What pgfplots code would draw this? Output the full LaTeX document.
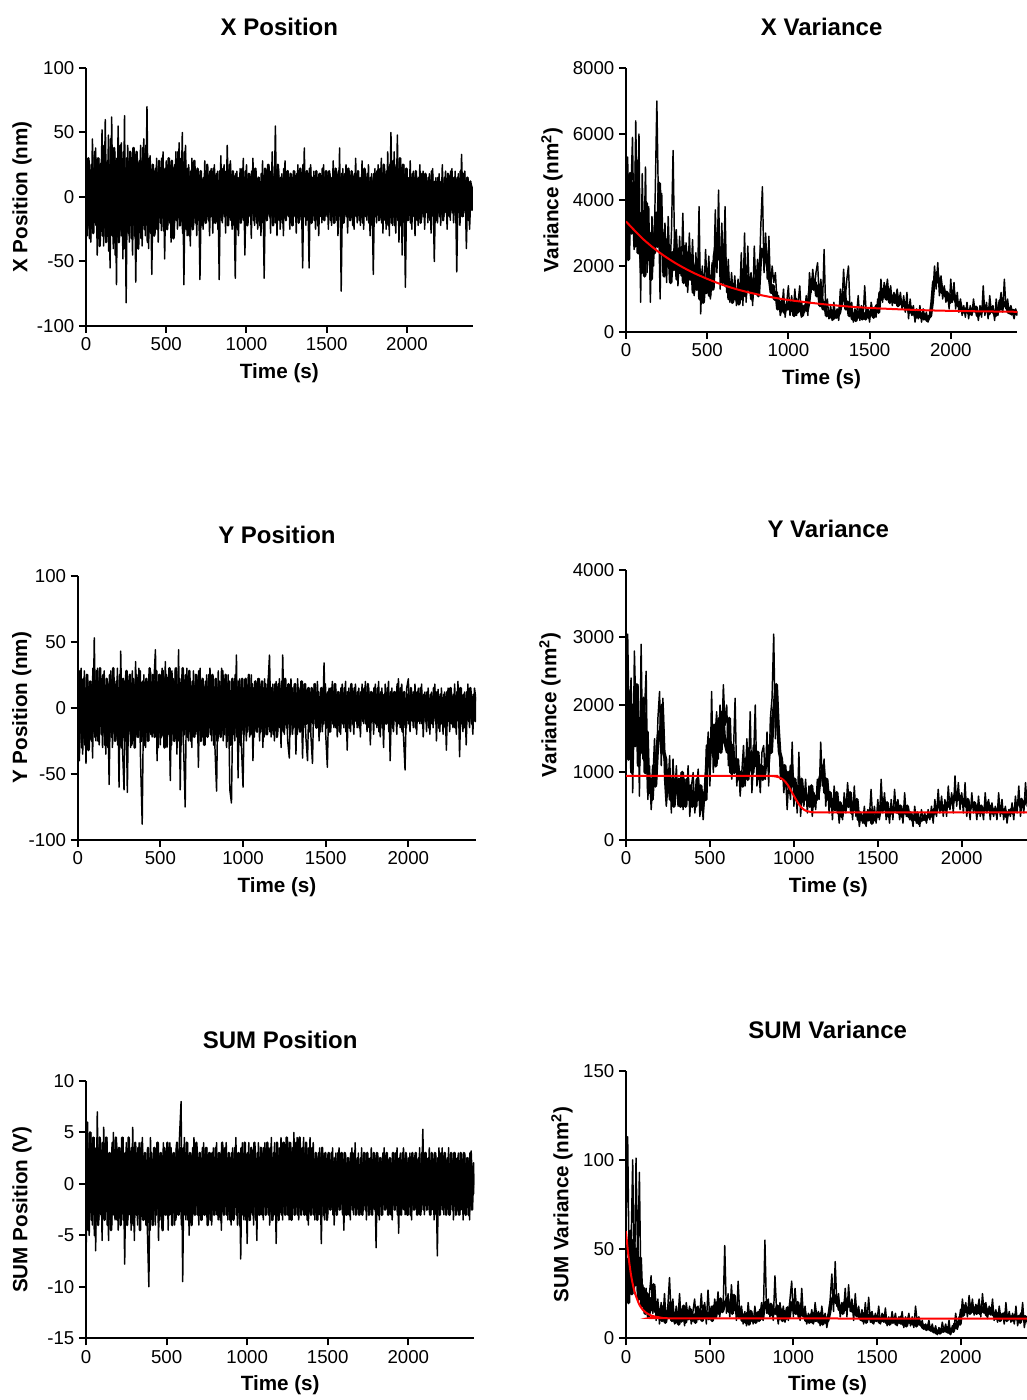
\documentclass[border=0pt]{standalone}
\usepackage{fontspec}
\setmainfont{Liberation Sans}
\usepackage{pgfplots}
\usepackage{pgfplotstable}
\pgfplotsset{compat=1.18}

% one value every 10 s (0..2410 s); the "b" tables hold the samples at 5, 15, 25 ... s
\pgfplotstableread[row sep=\\, header=false]{
5\\-30\\28\\-35\\45\\-20\\38\\-45\\30\\-12\\
52\\-38\\60\\-25\\48\\-55\\62\\-40\\35\\-68\\
55\\-30\\42\\-48\\63\\-82\\40\\-35\\28\\-45\\
38\\-66\\30\\-25\\40\\-38\\45\\-30\\70\\-40\\
32\\-60\\25\\-28\\30\\-35\\20\\-26\\35\\-48\\
28\\-22\\30\\-35\\22\\-30\\35\\-25\\42\\-20\\
50\\-68\\40\\-30\\25\\-38\\30\\-22\\18\\-30\\
20\\-64\\15\\-25\\28\\-20\\18\\-30\\22\\-28\\
25\\-18\\20\\-64\\32\\-20\\25\\-28\\40\\-15\\
28\\-25\\15\\-63\\20\\-30\\22\\-18\\30\\-45\\
25\\-20\\18\\-32\\30\\-22\\20\\-25\\15\\-30\\
28\\-63\\22\\-18\\25\\-28\\35\\-20\\55\\-30\\
22\\-25\\18\\-30\\28\\-15\\20\\-25\\15\\-22\\
20\\-28\\25\\-18\\15\\-55\\38\\-22\\20\\-55\\
25\\-18\\20\\-25\\15\\-30\\18\\-20\\25\\-15\\
20\\-25\\18\\-22\\28\\-20\\15\\-30\\38\\-73\\
22\\-18\\25\\-28\\20\\-15\\18\\-25\\30\\-20\\
15\\-22\\28\\-25\\20\\-18\\25\\-30\\18\\-60\\
22\\-20\\25\\-18\\30\\-28\\22\\-25\\35\\-30\\
50\\-22\\35\\-28\\48\\-35\\30\\-45\\25\\-70\\
22\\-18\\28\\-25\\20\\-30\\15\\-22\\25\\-18\\
20\\-25\\15\\-20\\18\\-28\\22\\-50\\15\\-20\\
18\\-22\\25\\-15\\20\\-25\\15\\-18\\22\\-20\\
20\\-58\\18\\-22\\33\\-15\\20\\-40\\15\\-25\\
10\\5\\
}\xpos
\pgfplotstableread[row sep=\\, header=false]{
-25\\30\\-32\\25\\-28\\35\\-22\\30\\-38\\26\\
-30\\40\\-35\\28\\-42\\45\\-30\\38\\-45\\30\\
-35\\40\\-30\\35\\-40\\30\\-28\\35\\-32\\38\\
-30\\35\\-40\\28\\-32\\38\\-25\\40\\-35\\30\\
-28\\25\\-30\\22\\-25\\28\\-20\\30\\-26\\22\\
-25\\30\\-20\\28\\-32\\25\\-18\\35\\-22\\30\\
-28\\35\\-25\\22\\-30\\20\\-25\\28\\-20\\22\\
-18\\20\\-22\\15\\-20\\25\\-18\\20\\-15\\22\\
-20\\18\\-25\\20\\-18\\22\\-15\\20\\-22\\25\\
-18\\20\\-22\\18\\-25\\15\\-20\\22\\-18\\20\\
-22\\18\\-15\\20\\-18\\22\\-20\\15\\-22\\18\\
-20\\22\\-18\\25\\-15\\20\\-22\\18\\-20\\25\\
-18\\15\\-20\\22\\-18\\20\\-15\\18\\-22\\20\\
-15\\18\\-20\\22\\-18\\25\\-15\\20\\-18\\22\\
-20\\15\\-18\\20\\-22\\18\\-15\\22\\-18\\20\\
-15\\20\\-18\\15\\-20\\22\\-18\\20\\-15\\18\\
-20\\18\\-15\\22\\-18\\20\\-22\\18\\-15\\20\\
-18\\15\\-20\\22\\-15\\18\\-20\\15\\-22\\18\\
-15\\20\\-18\\22\\-20\\25\\-18\\20\\-22\\25\\
-20\\28\\-22\\25\\-18\\30\\-22\\25\\-20\\22\\
-18\\15\\-20\\18\\-15\\20\\-18\\15\\-20\\18\\
-15\\18\\-12\\15\\-18\\20\\-15\\12\\-18\\15\\
-15\\12\\-18\\15\\-12\\18\\-15\\20\\-12\\15\\
-18\\15\\-12\\20\\-15\\18\\-12\\15\\-18\\12\\
-10\\8\\
}\xposb

\pgfplotstableread[row sep=\\, header=false]{
1500\\5300\\2800\\4200\\5900\\2500\\6400\\3000\\6000\\900\\
4800\\2200\\5000\\1800\\3800\\900\\3500\\2000\\4200\\7000\\
3800\\1000\\4200\\2000\\3300\\1500\\3500\\1800\\3000\\5500\\
2200\\3100\\1400\\2900\\1700\\3600\\1500\\2700\\1200\\3000\\
1600\\2800\\1100\\2400\\1400\\3800\\550\\2000\\1100\\2500\\
1300\\2300\\1000\\2100\\1500\\3700\\1800\\4300\\1300\\3300\\
1600\\3800\\1200\\2200\\900\\1800\\1100\\1700\\800\\1600\\
1000\\2400\\800\\3000\\900\\2600\\1200\\1800\\800\\2600\\
1300\\2200\\1500\\3200\\4400\\1800\\3000\\1600\\2900\\1300\\
2000\\1500\\1800\\900\\1100\\500\\700\\1300\\450\\900\\
1400\\500\\1100\\600\\1300\\500\\900\\1400\\450\\800\\
600\\1100\\500\\1800\\1200\\1900\\1300\\1800\\2100\\1000\\
1600\\800\\2500\\600\\1000\\400\\800\\350\\900\\500\\
700\\350\\1300\\800\\1900\\1000\\1600\\2000\\600\\900\\
300\\700\\500\\1100\\350\\800\\400\\1400\\500\\700\\
300\\900\\600\\750\\450\\1000\\700\\1600\\900\\1500\\
1200\\1600\\1000\\1400\\800\\1200\\1000\\1300\\900\\1200\\
700\\1100\\600\\1200\\400\\1000\\500\\800\\300\\700\\
400\\800\\300\\700\\450\\600\\300\\500\\750\\1100\\
2000\\1300\\2100\\1100\\1700\\1000\\1400\\900\\1200\\700\\
1600\\900\\1500\\700\\1200\\600\\1000\\500\\800\\450\\
900\\400\\800\\500\\1000\\600\\700\\350\\800\\450\\
1400\\500\\900\\400\\1100\\600\\800\\350\\1000\\500\\
800\\1200\\600\\1600\\700\\1000\\550\\800\\600\\400\\
700\\500\\
}\xvar
\pgfplotstableread[row sep=\\, header=false]{
4000\\2200\\4800\\3000\\4500\\2600\\5200\\2400\\3600\\1800\\
3500\\1700\\3900\\2200\\3000\\1600\\2800\\2400\\3600\\2600\\
4500\\2400\\3000\\1700\\2800\\2000\\2600\\1500\\2400\\1900\\
2800\\1600\\2500\\1800\\2300\\1500\\2600\\1400\\2400\\1600\\
2300\\1200\\2000\\1300\\2200\\1000\\1800\\900\\1600\\1200\\
1900\\1100\\1700\\1300\\2300\\2600\\2900\\2200\\2500\\1500\\
2400\\1400\\1800\\1000\\1500\\900\\1400\\1000\\1300\\850\\
1400\\1000\\1900\\1100\\1700\\1300\\1500\\1000\\1600\\1200\\
1800\\1100\\2000\\2500\\2300\\2600\\2200\\1900\\1600\\1200\\
1400\\1000\\1200\\700\\900\\650\\1000\\600\\800\\700\\
900\\650\\800\\500\\1000\\600\\700\\900\\500\\700\\
800\\650\\900\\1400\\1600\\1300\\1500\\1100\\1400\\800\\
1000\\700\\900\\500\\600\\450\\650\\400\\600\\450\\
500\\600\\900\\1100\\1200\\700\\900\\500\\700\\400\\
500\\350\\600\\450\\700\\400\\550\\400\\650\\450\\
550\\700\\450\\650\\800\\600\\1200\\1000\\1300\\1100\\
1000\\1300\\900\\1100\\1000\\900\\1100\\800\\1000\\900\\
800\\900\\700\\800\\600\\750\\550\\600\\450\\500\\
600\\450\\550\\400\\500\\350\\450\\500\\900\\1500\\
1600\\1800\\1500\\1600\\1200\\1300\\1100\\1200\\1000\\900\\
1100\\1200\\1000\\900\\800\\900\\700\\650\\600\\700\\
600\\650\\550\\700\\650\\750\\500\\550\\600\\700\\
800\\650\\700\\550\\750\\650\\600\\500\\700\\650\\
950\\700\\900\\800\\850\\600\\700\\550\\650\\600\\
550\\600\\
}\xvarb

\pgfplotstableread[row sep=\\, header=false]{
10\\-40\\30\\-35\\28\\-42\\25\\-30\\20\\-38\\
53\\-25\\30\\-28\\22\\-30\\28\\-35\\20\\-58\\
28\\-30\\22\\-25\\30\\-60\\43\\-28\\-62\\25\\
-64\\20\\-30\\28\\-25\\35\\-22\\30\\-40\\-88\\
25\\-30\\20\\-25\\28\\-22\\18\\44\\-40\\25\\
-28\\30\\-20\\35\\-30\\22\\-55\\28\\-25\\30\\
-35\\44\\-62\\25\\-28\\-75\\30\\-25\\22\\-30\\
28\\-20\\25\\-45\\30\\-22\\18\\-28\\25\\-20\\
30\\-25\\22\\-30\\-63\\28\\-20\\30\\-25\\22\\
-30\\25\\-62\\-72\\20\\-25\\40\\-53\\22\\-28\\
-60\\20\\-25\\18\\-22\\25\\-40\\20\\-18\\22\\
-25\\18\\-30\\22\\-20\\15\\40\\-22\\18\\-25\\
20\\-18\\22\\-30\\40\\-20\\15\\-25\\-38\\22\\
-20\\18\\-35\\22\\-15\\20\\-38\\18\\-22\\-40\\
15\\-20\\-42\\18\\-15\\20\\-25\\15\\-18\\34\\
-20\\-45\\15\\-18\\20\\-15\\18\\-22\\12\\-20\\
18\\-15\\20\\-32\\15\\-18\\12\\-20\\18\\-15\\
15\\-22\\18\\-12\\20\\-18\\15\\-28\\12\\-20\\
18\\-15\\20\\-22\\15\\-30\\18\\-12\\20\\-40\\
15\\-18\\12\\-20\\22\\-15\\18\\-20\\-47\\15\\
22\\-18\\12\\-15\\18\\-20\\15\\-12\\18\\-22\\
12\\-18\\15\\-20\\12\\-15\\18\\-25\\14\\-18\\
15\\-20\\12\\-32\\15\\-18\\12\\-15\\18\\-20\\
20\\-37\\15\\-18\\12\\-28\\18\\-15\\12\\-20\\
15\\5\\
}\ypos
\pgfplotstableread[row sep=\\, header=false]{
-25\\28\\-30\\22\\-28\\25\\-32\\20\\-25\\30\\
-22\\28\\-25\\30\\-20\\25\\-28\\22\\-30\\25\\
-22\\30\\-25\\20\\-28\\25\\-30\\22\\-25\\28\\
-20\\25\\-28\\22\\-30\\25\\-22\\28\\-25\\20\\
-28\\22\\-25\\30\\-20\\25\\-22\\28\\-30\\25\\
-22\\28\\-30\\25\\-20\\30\\-28\\22\\-25\\30\\
-25\\22\\-28\\30\\-20\\25\\-22\\28\\-25\\20\\
-22\\25\\-20\\28\\-25\\22\\-28\\20\\-22\\25\\
-20\\25\\-28\\22\\-25\\20\\-22\\28\\-20\\25\\
-25\\20\\-28\\22\\-20\\25\\-22\\20\\-28\\22\\
-20\\22\\-18\\25\\-20\\18\\-22\\20\\-18\\22\\
-18\\20\\-22\\18\\-20\\22\\-18\\15\\-20\\18\\
-22\\18\\-15\\20\\-18\\22\\-15\\18\\-20\\15\\
-15\\18\\-20\\15\\-18\\20\\-15\\18\\-12\\15\\
-18\\15\\-12\\18\\-15\\12\\-18\\15\\-12\\18\\
-15\\12\\-18\\15\\-12\\18\\-15\\12\\-18\\15\\
-12\\15\\-18\\12\\-15\\18\\-12\\15\\-10\\12\\
-15\\12\\-10\\15\\-12\\18\\-15\\12\\-10\\15\\
-12\\15\\-18\\12\\-15\\10\\-12\\15\\-18\\12\\
-15\\12\\-10\\18\\-12\\15\\-18\\12\\-15\\10\\
-12\\15\\-10\\12\\-15\\12\\-10\\15\\-12\\10\\
-10\\12\\-15\\10\\-12\\15\\-10\\12\\-15\\10\\
-12\\10\\-15\\12\\-10\\15\\-12\\10\\-15\\12\\
-10\\15\\-12\\10\\-15\\12\\-10\\15\\-12\\10\\
-10\\8\\
}\yposb

\pgfplotstableread[row sep=\\, header=false]{
800\\3050\\1500\\2400\\700\\2800\\1800\\2300\\650\\2900\\
1200\\1900\\2500\\600\\1100\\450\\900\\1500\\800\\1800\\
2200\\1100\\2100\\900\\500\\800\\1250\\400\\1200\\600\\
1100\\500\\800\\1000\\450\\900\\600\\1100\\350\\800\\
1000\\400\\750\\1050\\350\\600\\300\\900\\1200\\1600\\
800\\2200\\1000\\1500\\1900\\1200\\2000\\1400\\2300\\1700\\
2000\\1100\\1600\\900\\1300\\2100\\800\\1200\\650\\1000\\
1400\\800\\1500\\1000\\1900\\700\\1200\\2000\\800\\1100\\
700\\1300\\1400\\900\\1600\\800\\1800\\2100\\3050\\1500\\
2200\\1600\\900\\1200\\700\\1000\\450\\900\\600\\1450\\
500\\800\\400\\1300\\350\\700\\500\\900\\400\\800\\
600\\350\\700\\450\\900\\600\\1450\\800\\1200\\500\\
900\\400\\700\\300\\800\\500\\600\\250\\500\\300\\
700\\400\\850\\500\\650\\300\\800\\350\\500\\200\\
400\\250\\500\\200\\450\\350\\750\\300\\500\\250\\
600\\300\\900\\400\\700\\300\\500\\250\\600\\300\\
750\\400\\600\\300\\500\\250\\700\\350\\450\\300\\
400\\200\\500\\250\\350\\200\\450\\300\\400\\250\\
450\\300\\500\\250\\600\\350\\750\\400\\650\\350\\
600\\350\\800\\450\\700\\400\\950\\500\\850\\450\\
700\\400\\850\\350\\600\\300\\700\\400\\550\\300\\
650\\350\\500\\300\\700\\400\\600\\300\\550\\350\\
500\\300\\700\\350\\600\\300\\500\\250\\450\\350\\
550\\300\\650\\400\\800\\350\\600\\400\\850\\500\\
700\\450\\
}\yvar
\pgfplotstableread[row sep=\\, header=false]{
2400\\1200\\2200\\1000\\2000\\1400\\2300\\1100\\1800\\1300\\
2100\\1000\\1600\\700\\900\\600\\1100\\800\\1300\\1600\\
1500\\2000\\1300\\1200\\700\\1000\\600\\900\\500\\800\\
700\\900\\500\\1000\\700\\500\\900\\600\\800\\500\\
700\\500\\900\\600\\800\\450\\700\\600\\1400\\1100\\
1500\\1300\\1700\\1100\\1500\\1800\\1300\\1900\\1500\\1400\\
1300\\1800\\1000\\1400\\1000\\1200\\1100\\900\\1000\\800\\
1000\\1200\\900\\1300\\1100\\1000\\1400\\1100\\1300\\900\\
1100\\900\\1000\\1200\\1100\\1400\\1300\\1800\\2000\\2300\\
1700\\1300\\1200\\900\\1100\\800\\1000\\700\\1100\\800\\
900\\600\\800\\550\\900\\600\\750\\600\\650\\500\\
800\\500\\650\\600\\700\\900\\1000\\1100\\700\\900\\
600\\700\\500\\600\\450\\700\\400\\550\\350\\500\\
450\\600\\500\\700\\400\\550\\450\\600\\300\\400\\
300\\350\\250\\400\\300\\450\\250\\350\\300\\400\\
350\\450\\500\\600\\450\\550\\350\\450\\400\\450\\
450\\550\\400\\500\\350\\450\\400\\500\\350\\400\\
300\\350\\300\\400\\250\\300\\300\\350\\300\\350\\
350\\400\\350\\450\\400\\500\\500\\550\\450\\500\\
450\\550\\500\\600\\550\\650\\600\\700\\600\\650\\
550\\600\\500\\600\\450\\500\\500\\550\\450\\400\\
450\\500\\400\\450\\500\\550\\450\\500\\400\\450\\
400\\450\\500\\450\\400\\450\\350\\400\\400\\450\\
400\\450\\500\\550\\550\\600\\500\\550\\600\\650\\
600\\650\\
}\yvarb

\pgfplotstableread[row sep=\\, header=false]{
-8\\6\\-5\\5\\-4\\4.5\\-6.5\\7\\-3.5\\4\\
-5.5\\5.5\\-3\\4.5\\-5.5\\3\\-4\\5\\-3.5\\4\\
-4.5\\3.5\\-3\\4.5\\-7.8\\4\\-3.5\\3\\-4.5\\5.5\\
-5.5\\3\\-4\\4\\-3\\4.5\\-3.5\\3\\-4\\-10\\
4.5\\-3\\3.5\\-4\\4\\-5.5\\3\\-3.5\\4\\-3\\
3.5\\-4.5\\4\\-3\\3\\-4\\3.5\\-3\\4.5\\8\\
-9.5\\4.5\\-3.5\\4\\-5\\3\\-3.5\\4.5\\-3\\3.5\\
-4\\3\\-3.5\\4\\-3\\3.5\\-3.5\\3\\-4\\3.5\\
-3\\4\\-3.5\\3\\-4.5\\3.5\\-3\\4\\-3.5\\3\\
-4\\3.5\\-3\\4.5\\-4\\3\\-7.3\\4\\-3.5\\3\\
-5.8\\4\\-3.5\\3\\-4\\3.5\\-5.5\\4\\-3\\3.5\\
-3.5\\4\\-3\\3.5\\-4\\4.5\\-3.5\\4\\-5.8\\3.5\\
-3\\4.5\\-3.5\\4\\-3\\4.5\\-3.5\\4\\-3\\5\\
-3\\4.5\\-3.5\\4\\-2.5\\4.5\\-3\\3.5\\-4\\4.5\\
-3\\4\\-3.5\\3\\-3\\3.5\\-5.8\\3\\-3.5\\2.5\\
-3\\3\\-2.5\\3.5\\-4\\3\\-3\\3.5\\-2.5\\3\\
-4.5\\3\\-3\\2.5\\-3.5\\3.5\\-3\\4\\-2.5\\3\\
-3\\3.5\\-2.5\\3\\-3.5\\2.5\\-3\\3.5\\-2.5\\3\\
-6.2\\3\\-3.5\\2.5\\-3\\3.5\\-2.5\\3\\-3\\2.5\\
-3.5\\3\\-2.5\\3.5\\-4.8\\3\\-2.5\\3.5\\-3\\2.5\\
-3\\3\\-3.5\\2.5\\-2.5\\3\\-3\\3.5\\-2.5\\5.3\\
-3\\3\\-2.5\\3.5\\-3\\2.5\\-3.5\\3\\-7\\3.5\\
-2.5\\3.5\\-3\\3\\-2.5\\3.5\\-3\\2.5\\-3.5\\3\\
-2.5\\3\\-3\\2.5\\-3.5\\3\\-3\\2.5\\-3.5\\3.2\\
-1\\1\\
}\spos
\pgfplotstableread[row sep=\\, header=false]{
4\\-4.5\\5\\-3.5\\4.5\\-5\\3.5\\-4\\4.5\\-3\\
4\\-3.5\\4.5\\-4\\3\\-4.5\\4\\-3\\4.5\\-3.5\\
3.5\\-4\\4.5\\-3.5\\3\\-4\\4.5\\-3\\3.5\\-4\\
4\\-3\\3.5\\-4.5\\4\\-3.5\\3\\-4\\3.5\\-4.5\\
3\\-4\\3.5\\-3\\4\\-3.5\\3\\-4.5\\3.5\\-3\\
4\\-3\\3.5\\-4\\3\\-3.5\\4\\-3\\3.5\\-4\\
3.5\\-3\\4\\-3.5\\3\\-4\\3.5\\-3\\4\\-3\\
3\\-3.5\\3.5\\-3\\3.5\\-4\\3\\-3.5\\3\\-3\\
3.5\\-3\\3\\-3.5\\4\\-3\\3.5\\-3\\3\\-3.5\\
3\\-3.5\\3.5\\-3\\3\\-4\\3.5\\-3\\4\\-3.5\\
3\\-3.5\\3.5\\-3\\4\\-3.5\\3\\-3\\3.5\\-3\\
3.5\\-3\\4\\-3\\3.5\\-3.5\\3\\-3\\4\\-3.5\\
3.5\\-3\\4\\-3\\4.5\\-3\\4\\-3.5\\3.5\\-3\\
4\\-3\\4.5\\-3\\3.5\\-3\\4\\-3.5\\3.5\\-3\\
3.5\\-3\\3\\-3.5\\3\\-3\\3.5\\-3\\3\\-3.5\\
3\\-2.5\\3\\-3\\2.5\\-3\\3\\-2.5\\3\\-3\\
3\\-3\\2.5\\-3\\3\\-2.5\\3\\-3\\2.5\\-3\\
2.5\\-3\\3\\-2.5\\3\\-3\\2.5\\-3\\3\\-2.5\\
3\\-3\\2.5\\-3\\3\\-2.5\\3\\-3\\2.5\\-3\\
3\\-2.5\\3\\-3\\2.5\\-3\\3\\-2.5\\3\\-3\\
2.5\\-3\\3\\-2.5\\3\\-3\\2.5\\-3\\3\\-2.5\\
3\\-2.5\\2.5\\-3\\3\\-2.5\\3\\-3\\2.5\\-3\\
3\\-2.5\\3\\-3\\2.5\\-3\\3\\-2.5\\3\\-3\\
2.5\\-3\\3\\-2.5\\3\\-3\\2.5\\-3\\3\\-2.5\\
2\\-1\\
}\sposb

\pgfplotstableread[row sep=\\, header=false]{
60\\113\\30\\50\\100\\25\\101\\40\\93\\20\\
30\\15\\28\\12\\25\\35\\14\\30\\10\\22\\
8\\20\\10\\25\\9\\18\\34\\12\\22\\8\\
18\\10\\25\\9\\16\\7\\20\\12\\18\\8\\
15\\22\\9\\18\\12\\25\\10\\20\\8\\27\\
12\\18\\10\\22\\14\\26\\12\\20\\15\\52\\
14\\25\\12\\30\\15\\22\\10\\32\\12\\18\\
8\\15\\7\\20\\10\\14\\8\\18\\10\\15\\
12\\20\\10\\55\\14\\22\\12\\18\\10\\35\\
15\\8\\20\\12\\18\\9\\15\\10\\22\\32\\
12\\28\\15\\20\\10\\28\\12\\18\\8\\14\\
10\\16\\8\\20\\12\\15\\7\\18\\10\\14\\
6\\12\\22\\36\\15\\43\\18\\25\\12\\20\\
15\\28\\12\\30\\15\\22\\10\\25\\12\\18\\
10\\16\\8\\20\\10\\23\\9\\15\\8\\14\\
10\\18\\8\\14\\9\\17\\7\\12\\8\\15\\
9\\14\\7\\12\\8\\15\\6\\12\\9\\14\\
7\\12\\6\\18\\9\\12\\7\\10\\5\\8\\
6\\10\\4\\8\\3\\7\\2\\6\\3\\9\\
4\\8\\3\\10\\2\\7\\6\\14\\5\\12\\
10\\22\\14\\20\\12\\24\\15\\22\\13\\19\\
16\\22\\12\\25\\14\\20\\11\\18\\13\\22\\
10\\16\\9\\18\\11\\14\\8\\20\\10\\15\\
9\\14\\8\\18\\7\\13\\10\\20\\6\\12\\
8\\10\\
}\svar
\pgfplotstableread[row sep=\\, header=false]{
45\\20\\60\\25\\55\\30\\50\\22\\45\\18\\
28\\14\\25\\12\\22\\16\\30\\15\\20\\12\\
16\\10\\18\\9\\15\\12\\20\\10\\14\\9\\
14\\8\\16\\10\\18\\9\\14\\11\\16\\10\\
13\\9\\17\\11\\15\\10\\18\\12\\14\\11\\
16\\10\\18\\12\\20\\14\\22\\15\\18\\20\\
22\\15\\20\\14\\24\\16\\18\\12\\16\\10\\
13\\9\\14\\8\\15\\10\\12\\9\\14\\10\\
16\\11\\18\\20\\17\\14\\19\\13\\16\\14\\
18\\11\\16\\10\\15\\11\\17\\12\\20\\16\\
18\\14\\20\\12\\18\\13\\15\\10\\12\\9\\
13\\9\\14\\10\\12\\9\\14\\8\\12\\9\\
10\\14\\20\\22\\24\\20\\22\\16\\18\\14\\
20\\16\\22\\18\\19\\15\\18\\13\\15\\12\\
12\\10\\14\\9\\13\\11\\14\\9\\12\\10\\
12\\9\\11\\10\\13\\9\\10\\8\\11\\9\\
11\\8\\10\\9\\12\\8\\10\\7\\11\\9\\
9\\8\\10\\7\\11\\8\\8\\6\\7\\5\\
7\\5\\6\\4\\5\\3\\4\\3\\5\\4\\
5\\4\\6\\3\\5\\4\\8\\6\\9\\8\\
16\\13\\18\\15\\17\\14\\19\\15\\17\\14\\
18\\14\\17\\15\\19\\13\\16\\14\\17\\13\\
13\\11\\14\\10\\13\\12\\14\\10\\13\\11\\
12\\10\\13\\11\\12\\9\\14\\11\\12\\10\\
11\\9\\
}\svarb

\pgfplotsset{
  panel/.style={
    scale only axis,
    anchor=south west,
    axis lines=left,
    axis line style={-, line width=1.5pt},
    x axis line style={-}, y axis line style={-},
    major tick style={line width=1.5pt, black},
    major tick length=5.25pt,
    tick align=outside,
    xmin=0, xmax=2410,
    xtick={0,500,1000,1500,2000},
    xticklabels={0,500,1000,1500,2000},
    ticklabel style={font=\fontsize{14}{16}\selectfont},
    title style={at={(0.5,1)}, anchor=center, yshift=24.5pt,
      font=\fontsize{18}{20}\selectfont\bfseries},
    xlabel style={at={(0.5,0)}, anchor=center, yshift=-35.25pt,
      font=\fontsize{15.5}{17}\selectfont\bfseries},
    ylabel style={anchor=center, font=\fontsize{15.5}{17}\selectfont\bfseries},
    xlabel={Time (s)},
  },
  data/.style={black, line width=1.1pt, line join=round},
  core/.style={black, line width=1.9pt, line join=round},
  vcore/.style={black, line width=2.7pt, line join=round},
  fit/.style={red, line width=1.5pt},
}

\begin{document}
\begin{tikzpicture}
\useasboundingbox (0,0) rectangle (770.25pt,1050pt);
\clip (0,0) rectangle (770.25pt,1050pt);

% X position
\begin{axis}[panel, at={(64.5pt,805.5pt)}, width=290.1pt, height=193.5pt,
  ymin=-100, ymax=100, ytick={-100,-50,0,50,100}, yticklabels={-100,-50,0,50,100},
  title={X Position}, ylabel={X Position (nm)},
  ylabel style={at={(axis description cs:-0.1655,0.5)}}]
\addplot[core] table[x expr=\coordindex*10+5, y index=0] {\xposb};
\addplot[data] table[x expr=\coordindex*10, y index=0] {\xpos};
\end{axis}

% X variance
\begin{axis}[panel, at={(469.5pt,801pt)}, width=293.5pt, height=198pt,
  ymin=0, ymax=8000, ytick={0,2000,4000,6000,8000}, yticklabels={0,2000,4000,6000,8000},
  title={X Variance}, ylabel={Variance (nm\textsuperscript{2})},
  ylabel style={at={(axis description cs:-0.189,0.5)}}]
\addplot[vcore] table[x expr=\coordindex*10+5, y index=0] {\xvarb};
\addplot[data] table[x expr=\coordindex*10, y index=0] {\xvar};
\addplot[fit, smooth] coordinates {(0,3350) (100,2840) (200,2430) (300,2100) (400,1830)
  (500,1610) (600,1420) (700,1270) (800,1150) (900,1050) (1000,970) (1200,850)
  (1400,760) (1600,705) (1800,665) (2000,640) (2200,625) (2410,612)};
\end{axis}

% Y position
\begin{axis}[panel, at={(58.3pt,420pt)}, width=298.8pt, height=198.2pt,
  ymin=-100, ymax=100, ytick={-100,-50,0,50,100}, yticklabels={-100,-50,0,50,100},
  title={Y Position}, ylabel={Y Position (nm)},
  ylabel style={at={(axis description cs:-0.1406,0.5)}}]
\addplot[core] table[x expr=\coordindex*10+5, y index=0] {\yposb};
\addplot[data] table[x expr=\coordindex*10, y index=0] {\ypos};
\end{axis}

% Y variance
\begin{axis}[panel, at={(469.5pt,420pt)}, width=303.4pt, height=202.5pt,
  ymin=0, ymax=4000, ytick={0,1000,2000,3000,4000}, yticklabels={0,1000,2000,3000,4000},
  title={Y Variance}, ylabel={Variance (nm\textsuperscript{2})},
  ylabel style={at={(axis description cs:-0.188,0.5)}}]
\addplot[vcore] table[x expr=\coordindex*10+5, y index=0] {\yvarb};
\addplot[data] table[x expr=\coordindex*10, y index=0] {\yvar};
\addplot[fit, smooth] coordinates {(0,950) (850,950) (870,948) (890,942) (910,930)
  (930,905) (950,860) (970,790) (990,700) (1010,610) (1030,530) (1050,470)
  (1070,435) (1090,420) (1110,413) (1140,410) (1400,410) (2410,410)};
\end{axis}

% SUM position
\begin{axis}[panel, at={(64.5pt,46.3pt)}, width=291.3pt, height=193pt,
  ymin=-15, ymax=10, ytick={-15,-10,-5,0,5,10}, yticklabels={-15,-10,-5,0,5,10},
  title={SUM Position}, ylabel={SUM Position (V)},
  ylabel style={at={(axis description cs:-0.1648,0.5)}}]
\addplot[core] table[x expr=\coordindex*10+5, y index=0] {\sposb};
\addplot[data] table[x expr=\coordindex*10, y index=0] {\spos};
\end{axis}

% SUM variance
\begin{axis}[panel, at={(469.5pt,46.3pt)}, width=302.5pt, height=200.7pt,
  ymin=0, ymax=150, ytick={0,50,100,150}, yticklabels={0,50,100,150},
  title={SUM Variance}, ylabel={SUM Variance (nm\textsuperscript{2})},
  ylabel style={at={(axis description cs:-0.1587,0.5)}}]
\addplot[vcore] table[x expr=\coordindex*10+5, y index=0] {\svarb};
\addplot[data] table[x expr=\coordindex*10, y index=0] {\svar};
\addplot[fit, smooth] coordinates {(0,60) (10,50) (20,42) (30,35.5) (40,30.5) (50,26.5)
  (60,23.5) (80,18.8) (100,16) (120,14.3) (150,12.8) (200,11.7) (300,11.2) (2410,11)};
\end{axis}
\end{tikzpicture}
\end{document}
